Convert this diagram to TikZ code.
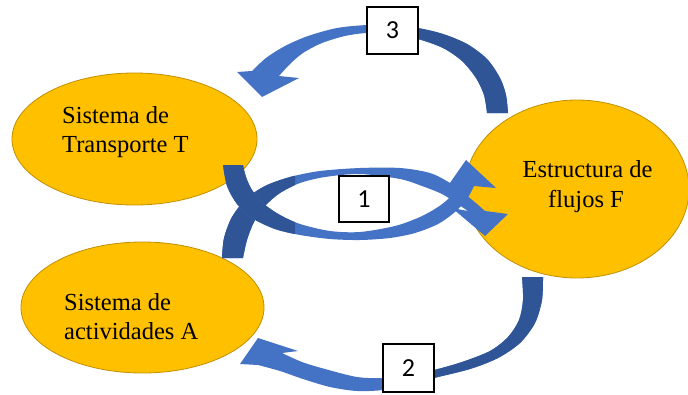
\documentclass[tikz,border=0pt]{standalone}
\usepackage{fontspec}
\setmainfont{Liberation Serif}
\newfontfamily\digitfont{Carlito}
\usetikzlibrary{shapes.geometric}
\definecolor{gold}{HTML}{FFC000}
\definecolor{goldline}{HTML}{C09000}
\definecolor{bluelight}{HTML}{4472C4}
\definecolor{bluedark}{HTML}{2F5597}
\begin{document}
\begin{tikzpicture}[x=1pt,y=-1pt,
  blob/.style={ellipse, draw=goldline, fill=gold, line width=0.8pt, inner sep=0pt},
  lbl/.style={font=\fontsize{24.5}{29}\selectfont, inner sep=0pt, text=black},
  numbox/.style={draw=black, fill=white, line width=1.2pt, minimum width=50pt, minimum height=46pt, inner sep=0pt, font=\digitfont\fontsize{26}{30}\selectfont},
  lightarrow/.style={fill=bluelight},
  darkarrow/.style={fill=bluedark}]
\useasboundingbox (0,0) rectangle (688,394);
\node[blob, minimum width=245pt, minimum height=132pt] (T) at (134.5,139) {};
\node[blob, minimum width=243pt, minimum height=131pt] (A) at (142.5,307.5) {};
\node[blob, minimum width=224pt, minimum height=178pt] (F) at (577,189) {};

\def\paththree{plot[smooth] coordinates {(508,113) (506,95) (500,78) (487,59) (467,44) (443,34) (418,28) (393,25) (367,25) (337,28) (308,36) (285,46) (266,58) (252,71)} -- (237,72) -- (262,97) -- (299,78) -- plot[smooth] coordinates {(279,76) (290,64) (303,53) (322,43) (345,36) (367,33) (393,34) (418,39) (443,48) (462,61) (476,78) (484,95) (487,113)} -- cycle}
\def\pathtwo{plot[smooth] coordinates {(543,277) (542,300) (535,323) (520,343) (498,358) (470,369) (434,378) (408,385) (383,390) (357,391) (330,387) (303,379) (280,371) (258,365)} -- (240,364) -- (258,338) -- (298,351) -- plot[smooth] coordinates {(282,353) (302,362) (325,369) (357,377) (383,378) (408,375) (434,370) (462,362) (490,351) (508,337) (519,320) (523,300) (522,277)} -- cycle}
\def\pathonea{plot[smooth] coordinates {(223,165) (227,186) (237,204) (252,218) (275,229) (300,235) (330,239) (360,240) (390,238) (415,233) (438,224) (455,212) (467,199) (474,186)} -- (496,188) -- (466,160) -- (445,190) -- plot[smooth] coordinates {(456,187) (449,198) (438,207) (420,217) (395,226) (360,232) (330,231) (300,224) (280,215) (264,204) (252,190) (246,177) (243,165)} -- cycle}
\def\pathoneb{plot[smooth] coordinates {(222,258) (224,238) (232,217) (246,199) (265,186) (290,177) (320,171) (360,168) (400,168) (430,173) (450,183) (466,195) (477,204) (485,211)} -- (508,214) -- (485,236) -- (452,208) -- plot[smooth] coordinates {(468,211) (456,203) (442,194) (422,186) (400,179) (360,174) (325,177) (300,183) (280,193) (265,206) (254,222) (247,240) (243,258)} -- cycle}

\fill[lightarrow] \paththree;
\begin{scope}\clip (392,0) rectangle (688,394); \fill[darkarrow] \paththree; \end{scope}
\fill[lightarrow] \pathtwo;
\begin{scope}\clip (408,0) rectangle (688,394); \fill[darkarrow] \pathtwo; \end{scope}
\fill[lightarrow] \pathoneb;
\begin{scope}\clip (0,0) rectangle (295,394); \fill[darkarrow] \pathoneb; \end{scope}
\fill[lightarrow] \pathonea;
\begin{scope}\clip (0,0) rectangle (295,394); \fill[darkarrow] \pathonea; \end{scope}

\node[numbox] (b1) at (364,199) {1};
\node[numbox, minimum width=51pt, minimum height=48pt] (b2) at (408.5,368) {2};
\node[numbox, minimum width=51pt, minimum height=47pt] (b3) at (392.5,30.5) {3};

\node[lbl, anchor=base west] (t1) at (62,123) {Sistema de};
\node[lbl, anchor=base west] (t2) at (62,152) {Transporte T};
\node[lbl, anchor=base west] (a1) at (64,310) {Sistema de};
\node[lbl, anchor=base west] (a2) at (64,339) {actividades A};
\node[lbl, anchor=base] (f1) at (587.5,177) {Estructura de};
\node[lbl, anchor=base] (f2) at (586,207) {flujos F};
\end{tikzpicture}
\end{document}
